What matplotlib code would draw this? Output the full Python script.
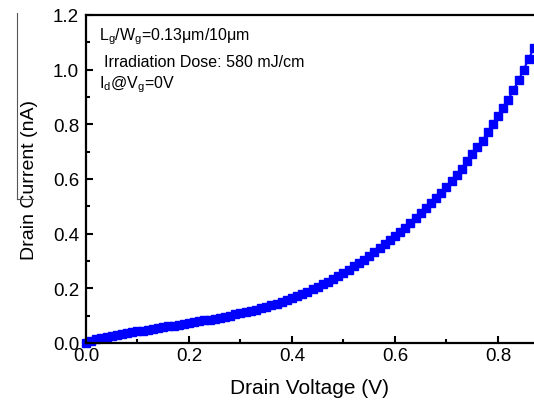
import matplotlib
matplotlib.use("Agg")
import matplotlib.pyplot as plt
from matplotlib.lines import Line2D

plt.rcParams['font.family'] = ['Liberation Sans', 'DejaVu Sans']
plt.rcParams['mathtext.fontset'] = 'custom'
plt.rcParams['mathtext.rm'] = 'Liberation Sans'
plt.rcParams['mathtext.it'] = 'Liberation Sans'

# --- datos: barrido de tension de drenador ---
drain_v = [0.00, 0.01, 0.02, 0.03, 0.04, 0.05, 0.06, 0.07, 0.08, 0.09,
           0.10, 0.11, 0.12, 0.13, 0.14, 0.15, 0.16, 0.17, 0.18, 0.19,
           0.20, 0.21, 0.22, 0.23, 0.24, 0.25, 0.26, 0.27, 0.28, 0.29,
           0.30, 0.31, 0.32, 0.33, 0.34, 0.35, 0.36, 0.37, 0.38, 0.39,
           0.40, 0.41, 0.42, 0.43, 0.44, 0.45, 0.46, 0.47, 0.48, 0.49,
           0.50, 0.51, 0.52, 0.53, 0.54, 0.55, 0.56, 0.57, 0.58, 0.59,
           0.60, 0.61, 0.62, 0.63, 0.64, 0.65, 0.66, 0.67, 0.68, 0.69,
           0.70, 0.71, 0.72, 0.73, 0.74, 0.75, 0.76, 0.77, 0.78, 0.79,
           0.80, 0.81, 0.82, 0.83, 0.84, 0.85, 0.86, 0.87]
drain_i = [0.000, 0.008, 0.014, 0.019, 0.023, 0.027, 0.030, 0.033, 0.036, 0.039,
           0.042, 0.045, 0.048, 0.051, 0.054, 0.057, 0.060, 0.063, 0.066, 0.069,
           0.072, 0.075, 0.079, 0.082, 0.085, 0.089, 0.092, 0.096, 0.100, 0.104,
           0.108, 0.112, 0.117, 0.122, 0.127, 0.132, 0.138, 0.144, 0.150, 0.157,
           0.164, 0.171, 0.179, 0.187, 0.196, 0.205, 0.214, 0.224, 0.234, 0.245,
           0.256, 0.268, 0.280, 0.292, 0.305, 0.318, 0.332, 0.346, 0.360, 0.375,
           0.390, 0.406, 0.422, 0.439, 0.456, 0.474, 0.492, 0.511, 0.530, 0.550,
           0.570, 0.591, 0.613, 0.635, 0.665, 0.690, 0.715, 0.740, 0.770, 0.800,
           0.830, 0.860, 0.890, 0.925, 0.960, 1.000, 1.040, 1.080]

x_ticks = [0.0, 0.2, 0.4, 0.6, 0.8]
y_ticks = [0.0, 0.2, 0.4, 0.6, 0.8, 1.0, 1.2]

notes = [r'L$_\mathregular{g}$/W$_\mathregular{g}$=0.13$\mu$m/10$\mu$m',
         'Irradiation Dose: 580 mJ/cm',
         r'I$_\mathregular{d}$@V$_\mathregular{g}$=0V']

fig = plt.figure(figsize=(5.34, 4.06), dpi=100)
ax = fig.add_axes([0.161, 0.153, 0.839, 0.808])

ax.plot(drain_v, drain_i, color='#0000ff', lw=1.5, marker='s', ms=6,
        mec='#0000ff', mfc='#0000ff', clip_on=False)

ax.set_xlim(0, 0.87)
ax.set_ylim(0, 1.2)
ax.set_xticks(x_ticks)
ax.set_yticks(y_ticks)
ax.set_xticks([0.1, 0.3, 0.5, 0.7], minor=True)
ax.set_yticks([0.1, 0.3, 0.5, 0.7, 0.9, 1.1], minor=True)
ax.set_xticklabels([f"{v:.1f}" for v in x_ticks])
ax.set_yticklabels([f"{v:.1f}" for v in y_ticks])
ax.tick_params(which='both', direction='in', width=1.5, labelsize=13.5,
               top=False, right=False)
ax.tick_params(which='major', length=5, pad=3)
ax.tick_params(axis='y', which='major', pad=5)
ax.tick_params(which='minor', length=3)
ax.spines['right'].set_visible(False)
for s in ['left', 'bottom', 'top']:
    ax.spines[s].set_linewidth(1.6)

ax.set_xlabel('Drain Voltage (V)', fontsize=15, labelpad=10)
ax.set_ylabel('Drain Current (nA)', fontsize=14, labelpad=10)
ax.yaxis.set_label_coords(-0.107, 0.5)

ax.text(0.03, 0.935, notes[0], transform=ax.transAxes, fontsize=11.5, va='center')
ax.text(0.04, 0.857, notes[1], transform=ax.transAxes, fontsize=11.5, va='center')
ax.text(0.03, 0.79, notes[2], transform=ax.transAxes, fontsize=11.5, va='center')

# linea fina del escaneo original junto a la etiqueta
fig.add_artist(Line2D([17 / 534, 17 / 534], [1 - 14 / 406, 1 - 200 / 406],
                      color='#555555', lw=0.8))
fig.add_artist(Line2D([17 / 534, 33 / 534], [1 - 200 / 406, 1 - 200 / 406],
                      color='#555555', lw=0.8))

plt.savefig("out.png", dpi=100)
